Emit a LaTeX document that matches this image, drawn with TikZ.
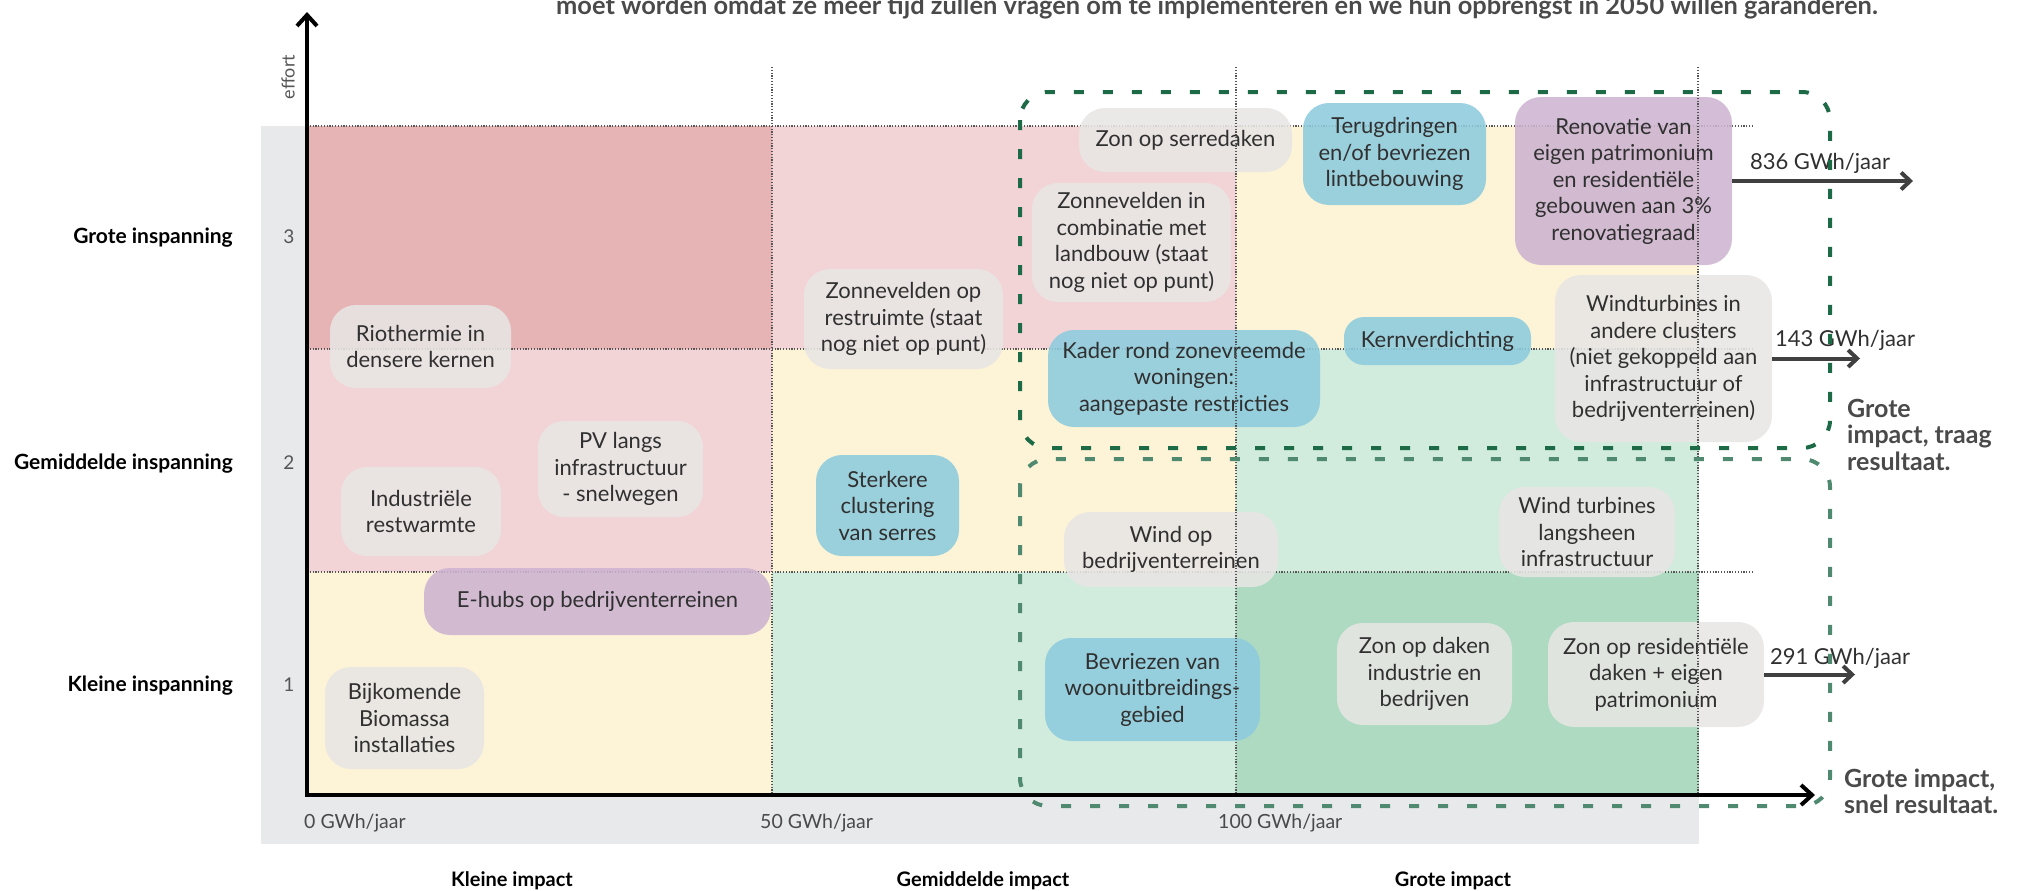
\documentclass[tikz,border=0pt]{standalone}
\usepackage{fontspec}
\setmainfont{Lato}
\usetikzlibrary{arrows.meta}
\definecolor{cellDR}{HTML}{E7B4B5}
\definecolor{cellP}{HTML}{F2D4D6}
\definecolor{cellY}{HTML}{FDF4D7}
\definecolor{cellLG}{HTML}{D1EBDC}
\definecolor{cellG}{HTML}{ADDAC1}
\definecolor{panel}{HTML}{E8E9EB}
\definecolor{bgray}{HTML}{E8E6E4}
\definecolor{bblue}{HTML}{8DCBDD}
\definecolor{bpurp}{HTML}{CDB4D1}
\definecolor{bubtext}{HTML}{303030}
\definecolor{gridc}{HTML}{555555}
\definecolor{arrowc}{HTML}{404040}
\definecolor{dgreen}{HTML}{1D6A47}
\definecolor{lgreen}{HTML}{4F8A70}
\definecolor{labgray}{HTML}{4A4A4A}
\definecolor{axgray}{HTML}{555555}
\newcommand{\bubfont}{\fontsize{22}{26.5}\selectfont}
\tikzset{
  bub/.style={rounded corners=26pt, fill opacity=0.88, text opacity=1, align=center, inner sep=0pt, font=\bubfont, text=bubtext},
  graybub/.style={bub, fill=bgray},
  bluebub/.style={bub, fill=bblue},
  purpbub/.style={bub, fill=bpurp},
  gridline/.style={draw=gridc, line width=1.2pt, dash pattern=on 1.2pt off 1.6pt},
  axisline/.style={draw=black, line width=4pt, -{Straight Barb[length=11pt,width=20pt]}},
  valarrow/.style={draw=arrowc, line width=4pt, -{Straight Barb[length=9pt,width=17pt]}},
  boxdashA/.style={draw=dgreen, line width=4pt, dash pattern=on 10pt off 19pt, rounded corners=28pt},
  boxdashB/.style={draw=lgreen, line width=4pt, dash pattern=on 10pt off 19pt, rounded corners=28pt},
  ylab/.style={font=\fontsize{21}{25}\selectfont\bfseries, anchor=base east, inner sep=0pt, text=black},
  xlab/.style={font=\fontsize{20}{24}\selectfont\bfseries, anchor=base, inner sep=0pt, text=black},
  ynum/.style={font=\fontsize{19}{23}\selectfont, inner sep=0pt, text=axgray},
  gwh/.style={font=\fontsize{19.5}{23}\selectfont, anchor=base west, inner sep=0pt, text=labgray},
  vallab/.style={font=\fontsize{22}{26}\selectfont, inner sep=0pt, text=bubtext},
  sidelab/.style={font=\fontsize{25}{27}\selectfont\bfseries, anchor=base west, inner sep=0pt, text=labgray}
}
\begin{document}
\begin{tikzpicture}[x=1pt,y=-1pt]
\useasboundingbox (0,0) rectangle (2029,891);
% panel
\fill[panel] (261,126) rectangle (1699,844);
% cells
\fill[cellDR] (307,126) rectangle (772,349);
\fill[cellP] (772,126) rectangle (1236,349);
\fill[cellY] (1236,126) rectangle (1699,349);
\fill[cellP] (307,349) rectangle (772,572);
\fill[cellY] (772,349) rectangle (1236,572);
\fill[cellLG] (1236,349) rectangle (1699,572);
\fill[cellY] (307,572) rectangle (772,795);
\fill[cellLG] (772,572) rectangle (1236,795);
\fill[cellG] (1236,572) rectangle (1699,795);
% horizontal grid lines
\coordinate (h1a) at (307,126); \coordinate (h1b) at (1753,126);
\coordinate (h2a) at (307,349); \coordinate (h2b) at (1753,349);
\coordinate (h3a) at (307,572); \coordinate (h3b) at (1753,572);
\draw[gridline] (h1a) -- (h1b);
\draw[gridline] (h2a) -- (h2b);
\draw[gridline] (h3a) -- (h3b);
% title
\node[font=\fontsize{25.4}{29}\selectfont\bfseries, text=labgray, anchor=base west, inner sep=0pt] (title) at (556,15) {moet worden omdat ze meer tijd zullen vragen om te implementeren en we hun opbrengst in 2050 willen garanderen.};
% bubbles
\node[graybub, minimum width=181pt, minimum height=83pt] (rio) at (420.5,346.5) {Riothermie in\\densere kernen};
\node[graybub, minimum width=199pt, minimum height=100pt] (zrest) at (903.5,319) {Zonnevelden op\\restruimte (staat\\nog niet op punt)};
\node[graybub, minimum width=165pt, minimum height=96pt] (pv) at (620.5,469) {PV langs\\infrastructuur\\- snelwegen};
\node[graybub, minimum width=160pt, minimum height=89pt] (ind) at (421,511.5) {Industriële\\restwarmte};
\node[bluebub, minimum width=143pt, minimum height=101pt] (ster) at (887.5,505.5) {Sterkere\\clustering\\van serres};
\node[purpbub, minimum width=347pt, minimum height=67pt] (ehub) at (597.5,601.5) {E-hubs op bedrijventerreinen};
\node[graybub, minimum width=159pt, minimum height=102pt] (bio) at (404.5,718) {Bijkomende\\Biomassa\\installaties};
\node[graybub, minimum width=213pt, minimum height=64pt] (serre) at (1185.5,140) {Zon op serredaken};
\node[bluebub, minimum width=183pt, minimum height=102pt] (terug) at (1394.5,154) {Terugdringen\\en/of bevriezen\\lintbebouwing};
\node[purpbub, minimum width=217pt, minimum height=168pt] (renov) at (1623.5,181) {Renovatie van\\eigen patrimonium\\en residentiële\\gebouwen aan 3\%\\renovatiegraad};
\node[graybub, minimum width=199pt, minimum height=119pt] (zland) at (1131.5,242.5) {Zonnevelden in\\combinatie met\\landbouw (staat\\nog niet op punt)};
\node[bluebub, minimum width=272pt, minimum height=97pt] (kader) at (1184,378.5) {Kader rond zonevreemde\\woningen:\\aangepaste restricties};
\node[bluebub, rounded corners=20pt, minimum width=187pt, minimum height=48pt] (kern) at (1437.5,341) {Kernverdichting};
\node[graybub, minimum width=217pt, minimum height=167pt] (wclus) at (1663.5,358.5) {Windturbines in\\andere clusters\\(niet gekoppeld aan\\infrastructuur of\\bedrijventerreinen)};
\node[graybub, minimum width=214pt, minimum height=75pt] (wbed) at (1171,549.5) {Wind op\\bedrijventerreinen};
\node[graybub, minimum width=176pt, minimum height=90pt] (winfra) at (1587,532) {Wind turbines\\langsheen\\infrastructuur};
\node[bluebub, minimum width=215pt, minimum height=103pt] (bevr) at (1152.5,689.5) {Bevriezen van\\woonuitbreidings-\\gebied};
\node[graybub, minimum width=175pt, minimum height=102pt] (zind) at (1424.5,674) {Zon op daken\\industrie en\\bedrijven};
\node[graybub, minimum width=216pt, minimum height=105pt] (zres) at (1656,674.5) {Zon op residentiële\\daken + eigen\\patrimonium};
% vertical grid lines (on top)
\coordinate (v1a) at (772,67); \coordinate (v1b) at (772,795);
\coordinate (v2a) at (1236,67); \coordinate (v2b) at (1236,795);
\coordinate (v3a) at (1698,67); \coordinate (v3b) at (1698,795);
\draw[gridline] (v1a) -- (v1b);
\draw[gridline] (v2a) -- (v2b);
\draw[gridline] (v3a) -- (v3b);
% axes
\coordinate (O) at (307,795);
\coordinate (ytip) at (307,12);
\coordinate (xtip) at (1815,795);
\draw[axisline] (O) -- (ytip);
\draw[axisline] ([xshift=-2pt]O) -- (xtip);
% axis labels
\node[font=\fontsize{18}{22}\selectfont, text=axgray, rotate=90, inner sep=0pt] (eff) at (288,77) {effort};
\node[ylab] (yl3) at (233,243) {Grote inspanning};
\node[ylab] (yl2) at (233,469) {Gemiddelde inspanning};
\node[ylab] (yl1) at (233,691) {Kleine inspanning};
\node[ynum] (n3) at (289,237) {3};
\node[ynum] (n2) at (289,463) {2};
\node[ynum] (n1) at (289,685) {1};
\node[gwh] (g0) at (304,828) {0 GWh/jaar};
\node[gwh] (g50) at (760,828) {50 GWh/jaar};
\node[gwh] (g100) at (1218,828) {100 GWh/jaar};
\node[xlab] (xl1) at (512,886) {Kleine impact};
\node[xlab] (xl2) at (983,886) {Gemiddelde impact};
\node[xlab] (xl3) at (1453,886) {Grote impact};
% value arrows
\coordinate (t836) at (1913,181);
\coordinate (t143) at (1860,358.5);
\coordinate (t291) at (1855,674.5);
\draw[valarrow] (renov.east) -- (t836);
\draw[valarrow] (wclus.east) -- (t143);
\draw[valarrow] (zres.east) -- (t291);
\node[vallab] (l836) at (1820,163) {836 GWh/jaar};
\node[vallab] (l143) at (1845,340) {143 GWh/jaar};
\node[vallab] (l291) at (1840,658) {291 GWh/jaar};
% dashed groups
\draw[boxdashA] (1020,92) rectangle (1830,448);
\draw[boxdashB] (1020,459) rectangle (1830,806);
% side labels
\node[sidelab] (s1a) at (1847,417) {Grote};
\node[sidelab] (s1b) at (1847,443) {impact, traag};
\node[sidelab] (s1c) at (1847,470) {resultaat.};
\node[sidelab] (s2a) at (1844,787) {Grote impact,};
\node[sidelab] (s2b) at (1844,813) {snel resultaat.};
\end{tikzpicture}
\end{document}
